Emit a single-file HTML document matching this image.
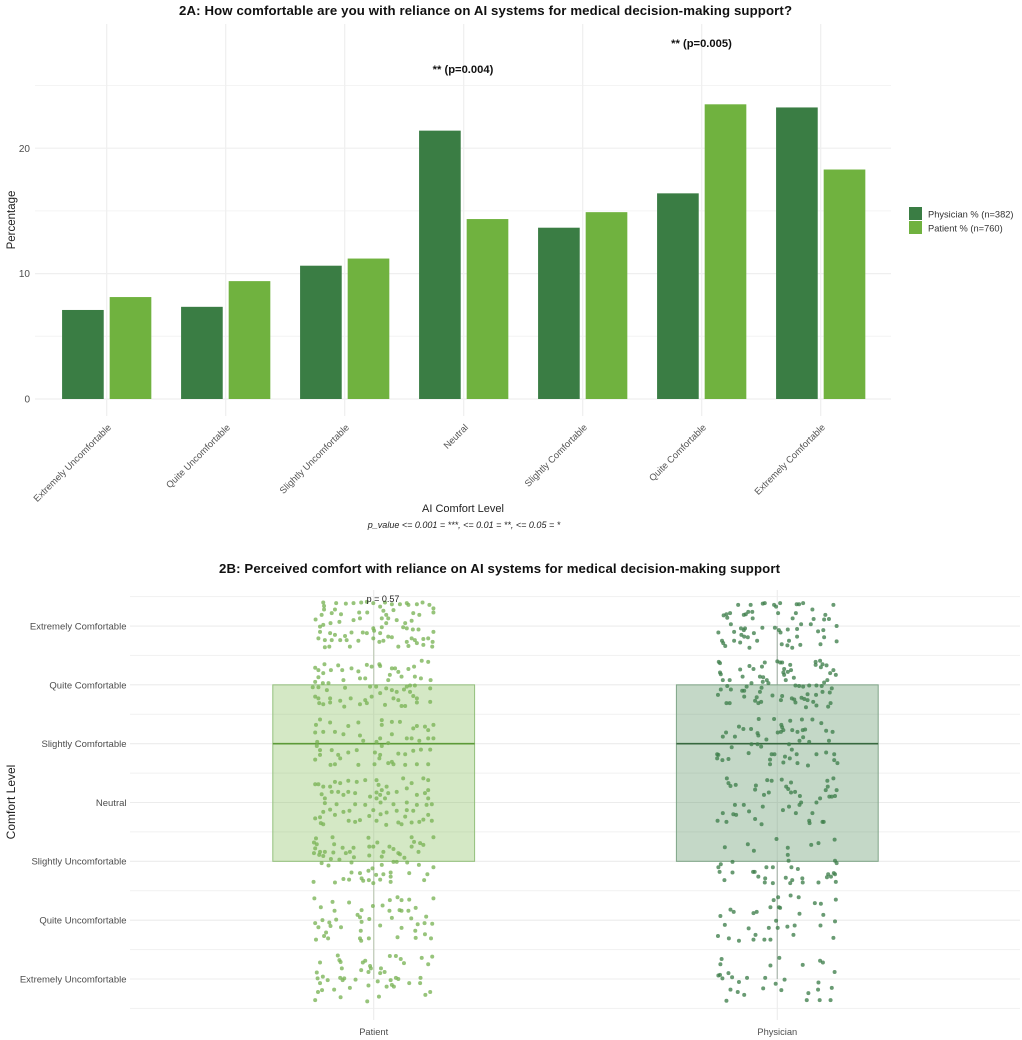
<!DOCTYPE html>
<html lang="en">
<head>
<meta charset="utf-8">
<title>AI comfort level charts</title>
<style>
html,body{margin:0;padding:0;background:#fff;}
#figure{display:block;width:1022px;height:1040px;font-family:"Liberation Sans",Arial,sans-serif;filter:blur(.35px);}
</style>
</head>
<body>
<svg id="figure" xmlns="http://www.w3.org/2000/svg" width="1022" height="1040" viewBox="0 0 1022 1040">
<rect x="0" y="0" width="1022" height="1040" fill="#fff"/>
<g id="panelA"></g>
<g id="panelB"></g>

<text x="485.5" y="15" text-anchor="middle" font-size="13.2" font-weight="bold" fill="#111" textLength="613" lengthAdjust="spacing">2A: How comfortable are you with reliance on AI systems for medical decision-making support?</text>
<text transform="translate(15,220) rotate(-90)" text-anchor="middle" font-size="11.5" fill="#222">Percentage</text>
<text x="463" y="512" text-anchor="middle" font-size="11" fill="#222">AI Comfort Level</text>
<text x="464" y="528" text-anchor="middle" font-size="9" font-style="italic" fill="#222">p_value &lt;= 0.001 = ***, &lt;= 0.01 = **, &lt;= 0.05 = *</text>
<text x="463" y="73" text-anchor="middle" font-size="11.2" font-weight="bold" fill="#111">** (p=0.004)</text>
<text x="701.5" y="47" text-anchor="middle" font-size="11.2" font-weight="bold" fill="#111">** (p=0.005)</text>

<g>
<rect x="909" y="207" width="13" height="13" fill="#3a7d44"/>
<rect x="909" y="221" width="13" height="13" fill="#70b23f"/>
<text x="928" y="217.5" font-size="9.3" fill="#333">Physician % (n=382)</text>
<text x="928" y="231.5" font-size="9.3" fill="#333">Patient % (n=760)</text>
</g>

<text x="499.5" y="573" text-anchor="middle" font-size="13.2" font-weight="bold" fill="#111" textLength="561" lengthAdjust="spacing">2B: Perceived comfort with reliance on AI systems for medical decision-making support</text>
<text transform="translate(15,802) rotate(-90)" text-anchor="middle" font-size="12" fill="#222">Comfort Level</text>
<text x="383" y="602" text-anchor="middle" font-size="9" fill="#222">p = 0.57</text>
</svg>

<script>
const comfortLevels = ['Extremely Uncomfortable','Quite Uncomfortable','Slightly Uncomfortable','Neutral','Slightly Comfortable','Quite Comfortable','Extremely Comfortable'];
const physicianPercent = [7.1,7.35,10.63,21.4,13.66,16.4,23.25];
const patientPercent = [8.13,9.4,11.2,14.35,14.9,23.5,18.3];
const percentMajorTicks = [0,10,20];
const percentMinorTicks = [5,15,25];

const groups = ['Patient','Physician'];
const boxQ1 = [3,3];
const boxMedian = [5,5];
const boxQ3 = [6,6];
const whiskerLow = [1,1];
const whiskerHigh = [7,7];

/* each point: [jitter as % of a category width, jittered comfort level] */
const patientPoints = [
[-12.5,7.4],[-12.3,7.34],[-9.3,7.39],[-6.9,7.38],[-5,7.39],[-3.1,7.4],[-1.7,7.41],[-.1,7.39],[2.8,7.4],[4.5,7.37],[6.5,7.37],[8.2,7.39],[8.6,7.36],[10.7,7.37],[12.1,7.4],[13.8,7.36],[14.8,7.3],[14.8,7.23],[-12.3,7.28],[-12.9,7.19],[-14.4,7.11],[-10.4,7.22],[-9.6,7.28],[-8.1,7.2],[-3.6,7.23],[-1.6,7.23],[1.6,7.33],[2.4,7.26],[3.1,7.19],[2,7.13],[3.6,7.13],[4.9,7.27],[9.8,7.22],[11.3,7.19],[7.8,7.05],[5.7,7.1],[9.4,7.09],[14.8,6.9],
[-13.3,6.99],[-12.5,7.02],[-10.7,7.05],[-8.5,7.07],[-5,7.1],[-3.4,7.13],[-.1,6.96],[.1,6.92],[2,6.98],[3.1,7.05],[7.3,6.98],[8.2,6.96],[9.7,6.94],[11.1,6.94],[-13.3,6.9],[-13.7,6.79],[-10.8,6.88],[-9.6,6.85],[-7.1,6.83],[-5.5,6.89],[-2.7,6.89],[-1.7,6.88],[1.6,6.88],[3.6,6.82],[4.5,6.81],[8.2,6.73],[9.4,6.79],[10.2,6.76],[10.7,6.71],[12.3,6.78],[13.5,6.79],[14.6,6.73],[-12.1,6.76],[-10.4,6.76],[-8.3,6.76],[-6.7,6.76],[-5.9,6.65],[-3.8,6.75],[1.4,6.73],[2.4,6.75],[-.1,6.79],[-12.1,6.64],[-11,6.65],[6.1,6.65],[8.6,6.66],[12.3,6.68],[14.5,6.65],
[-12.2,6.35],[-14.5,6.29],[-13.7,6.25],[-12.5,6.2],[-10.6,6.25],[-8.8,6.33],[-7.8,6.25],[-5.5,6.28],[-3.8,6.23],[-1.7,6.34],[-.5,6.31],[1.4,6.35],[1.6,6.32],[4.5,6.28],[5.3,6.28],[6.1,6.22],[8.6,6.27],[10,6.31],[11.9,6.41],[13.5,6.39],[14.1,6.08],[10.2,6.14],[11.7,6.11],[-13.7,6.13],[-14.5,6.05],[-11.2,6.03],[-7.5,6.08],[-3.4,6.11],[-2.1,6.11],[4,6.17],[3.6,6.08],[6.9,6.14],[-12.6,6.03],[-15.1,5.96],[-13.7,5.96],[-11.6,5.91],[-7.1,5.95],[-.9,5.97],[.6,5.97],[3.1,5.94],[4.5,5.91],[5.7,5.88],[7.5,5.92],[8.2,5.97],[9,5.99],[10.2,5.99],[14,5.94],[-14.5,5.8],[-13.7,5.77],[-10.8,5.77],[-8.3,5.73],[-5.7,5.77],[-2.1,5.74],[-.5,5.8],[1.6,5.86],[4.9,5.77],[6.1,5.74],[9,5.88],[9.8,5.81],[10.7,5.77],[14,5.71],[-13.5,5.69],[-12.5,5.67],[-10.8,5.7],[-7.3,5.63],[-3.4,5.67],[-1.7,5.69],[2.8,5.66],[6.9,5.64],[7.8,5.64],[10.7,5.7],
[-13.3,5.41],[-14.3,5.32],[-10.8,5.36],[-6.3,5.3],[-3.8,5.36],[2,5.4],[2,5.32],[4.5,5.37],[6.5,5.37],[10.7,5.3],[12.7,5.29],[14.8,5.32],[9.8,5.26],[13.5,5.23],[-14.5,5.19],[-12.5,5.2],[-9.6,5.2],[-7.5,5.16],[-3.4,5.14],[4.5,5.16],[1.6,5.09],[8.2,5.09],[9.4,5.09],[11.3,5.05],[13.5,5.09],[14.8,5.09],[-14,5.03],[-14.1,4.96],[-10.4,4.89],[-13.3,4.89],[-8.8,4.81],[-6.3,4.85],[-4.2,4.89],[-2.6,5.05],[.7,5.03],[2,4.96],[3.6,5.01],[6.1,4.83],[7.8,4.82],[9.8,4.88],[11.7,4.9],[14,4.9],[-14.5,4.73],[-13.3,4.81],[-8.3,4.75],[-3.8,4.64],[.3,4.85],[1.6,4.81],[1.4,4.75],[4.5,4.69],[4.9,4.65],[7.8,4.64],[10.7,4.65],[13.5,4.65],[-10.7,4.64],[-9.6,4.65],[.2,4.65],[3.6,4.67],
[-14.5,4.31],[-13.7,4.31],[-12.5,4.27],[-10.8,4.27],[-9.6,4.35],[-8.3,4.33],[-6.3,4.37],[-4.2,4.35],[-2.1,4.38],[.7,4.38],[1.2,4.3],[3.2,4.27],[7.3,4.41],[9.4,4.33],[12.3,4.41],[13.5,4.38],[-12.9,4.14],[-10.4,4.18],[-8.8,4.18],[-6.3,4.18],[-4.6,4.16],[.7,4.17],[2,4.21],[3.6,4.16],[5.7,4.18],[8.2,4.24],[12.7,4.16],[13.5,4.21],[.7,4.07],[1.6,4.13],[2.8,4.07],[13.5,4.07],[10.7,4.13],[-12.1,4.07],[-7.5,4.13],[-.9,4.1],
[-12.1,3.99],[-9.2,3.97],[-4.6,3.97],[-2.1,3.96],[1.7,4],[4.9,3.97],[8.2,4],[10.7,3.96],[14.4,3.97],[-10.8,3.88],[-12.5,3.84],[-9.6,3.79],[-7.5,3.84],[-6,3.86],[-.1,3.87],[1.7,3.8],[3.2,3.83],[5.7,3.86],[8.2,3.87],[9.8,3.86],[13.1,3.96],[-14.5,3.73],[-13.3,3.75],[-13.1,3.65],[-12.5,3.63],[-6.2,3.69],[-4.6,3.67],[-3.4,3.7],[-1.1,3.77],[.7,3.69],[3.1,3.62],[6.1,3.66],[6.9,3.63],[9.4,3.66],[11.3,3.67],[12.3,3.71],[14.4,3.69],[13.5,3.79],[7.8,3.76],
[-14.3,3.39],[-10.2,3.41],[-1.3,3.4],[.9,3.32],[9.4,3.41],[10,3.33],[14.8,3.41],[-14.8,3.32],[-14.1,3.29],[-9.8,3.29],[-1.1,3.25],[-.1,3.25],[3.9,3.25],[4.9,3.21],[11.5,3.31],[12.3,3.28],[9.4,3.25],[-14.5,3.22],[-7.7,3.23],[-5,3.23],[11.1,3.16],[-14.8,3.14],[-13.3,3.16],[-12.1,3.16],[-10,3.15],[-5.9,3.16],[-6.9,3.14],[2.4,3.16],[2,3.08],[6.1,3.14],[6.5,3.12],[-13.5,3.11],[-12.5,3.09],[-4.9,3.07],[-1.1,3.1],[7.6,3.06],[-10.6,3.04],[-8.5,3.03],[4.9,2.99],[5.7,2.99],[-12.9,2.97],[-11.2,2.93],[-5.5,2.98],[8.3,2.98],[11.2,2.94],[14.8,2.9],[2,2.94],[-.3,2.88],[-1.3,2.84],[-5.5,2.81],[-3.4,2.8],[.6,2.77],[2.4,2.78],[4.2,2.81],[8.8,2.8],[13.3,2.78],[-3,2.71],[-7.5,2.7],[-6.1,2.69],[-1.2,2.68],[1.6,2.69],[4.2,2.74],[12.5,2.68],[-14.9,2.65],[-9.6,2.64],[4.2,2.65],[-2.6,2.67],[-.1,2.63],
[-14.7,2.37],[-10.2,2.31],[-6.1,2.3],[5.9,2.39],[6.9,2.34],[8.8,2.35],[14.8,2.37],[4,2.34],[-13.1,2.22],[-9.7,2.16],[-3,2.17],[-.2,2.24],[2.2,2.25],[10.4,2.21],[3.9,2.16],[6.4,2.17],[6.9,2.16],[8.6,2.16],[-4,2.09],[-3.4,2.05],[-1.1,2.02],[4.5,2.04],[9.3,2.03],[13,2.06],[-12.7,2],[-9.3,2.01],[-14.5,1.95],[-11,1.96],[-3,1.97],[12.6,1.95],[14.5,1.94],[10.9,1.93],[-13.7,1.88],[-10.7,1.9],[-8.1,1.88],[1.6,1.91],[6.9,1.87],[10.3,1.82],[-11.8,1.79],[-3.2,1.82],[12.7,1.76],[-12.3,1.73],[5.9,1.71],[10.4,1.7],[14.2,1.69],[-14.3,1.67],[-11.3,1.69],[-3.4,1.69],[-1.2,1.69],[-3.1,1.65],
[-8.9,1.4],[-8.5,1.32],[-8.2,1.29],[-13.3,1.28],[-2.1,1.31],[-2.7,1.28],[4,1.39],[5.5,1.39],[6.7,1.34],[7.5,1.27],[11.9,1.36],[14.5,1.38],[13.5,1.25],[-7.9,1.18],[-.9,1.22],[-.7,1.18],[1.8,1.18],[-3.1,1.15],[-1.3,1.12],[-14.1,1.11],[2.7,1.12],[1.6,1.1],[-12.6,1.04],[-13.9,1.01],[-8.3,1.02],[-7.3,1.01],[-11.4,.98],[-4.5,.99],[5.5,1.02],[6.1,1],[11.6,1.02],[-13.3,.93],[-7.7,.98],[1,.96],[4.2,.98],[8.8,.93],[11.5,.93],[-1.3,.89],[-5.9,.85],[3.2,.87],[4.5,.9],[5,.87],[-12.8,.81],[-9.8,.82],[-13.8,.78],[14,.78],[-14.5,.64],[-8.2,.69],[12.8,.73],[1.3,.7],[-1.6,.62]
];
const physicianPoints = [
[-9.7,7.36],[-6.6,7.36],[-3.6,7.38],[-3.1,7.39],[-.8,7.36],[-.3,7.33],[.7,7.39],[4.8,7.37],[5.4,7.37],[6.4,7.39],[13.9,7.36],[8.7,7.28],[-6.2,7.24],[-7.2,7.24],[-7.8,7.2],[-8.3,7.19],[-11.7,7.22],[-12.6,7.2],[-13.3,7.18],[-12.4,7.14],[-6.1,7.13],[.2,7.22],[4.6,7.22],[3.8,7.13],[11.9,7.19],[9,7.12],[11.6,7.11],[12.8,7.12],[-11.5,7.03],[5.9,7.03],[8.3,7.03],[14.7,7],[-9,6.96],[-8,6.96],[-8.3,6.93],[-3.7,6.97],[-.6,6.97],[.4,6.93],[.8,6.89],[2.6,6.94],[4.9,6.95],[10.1,6.91],[11.4,6.93],[-14.6,6.89],[-10.7,6.9],[-5.8,6.88],[-8.9,6.85],[-8.2,6.82],[-7.3,6.81],[4.9,6.82],[11.6,6.81],[-13.7,6.75],[-10.7,6.75],[-5,6.75],[2.9,6.75],[14.7,6.74],[-13.4,6.71],[-9.2,6.72],[1.1,6.69],[2.5,6.67],[5.7,6.68],[10.7,6.69],[-12.9,6.66],[-6.9,6.63],[3.7,6.63],
[-14.5,6.39],[-14.2,6.37],[0,6.4],[.7,6.38],[1.2,6.38],[-3.1,6.38],[10.6,6.41],[9.5,6.39],[11.2,6.35],[9.5,6.34],[3.2,6.34],[-3.8,6.31],[-6.9,6.32],[-5.9,6.27],[-9.2,6.26],[1.7,6.27],[3.4,6.25],[2.6,6.22],[1.5,6.21],[10.8,6.3],[12.2,6.33],[13.9,6.25],[-14.2,6.21],[-14,6.18],[-8.6,6.14],[1.7,6.17],[13.1,6.2],[14.5,6.17],[-4.3,6.14],[-3.5,6.13],[4.1,6.12],[12.4,6.08],[-13.5,6.08],[-11.8,6.08],[-3.6,6.05],[-2.6,6.08],[-2.2,6.03],[2.1,6.08],[-6.4,6.03],[11.6,6.04],[-12.4,5.98],[-7.6,5.97],[-3.9,5.95],[4.5,5.99],[5.4,5.98],[6.4,5.97],[7.9,5.99],[9.7,5.99],[11,5.98],[13.5,5.94],[-14,5.92],[-11.5,5.92],[-8.2,5.9],[-8.7,5.9],[-4.3,5.88],[13,5.87],[11.2,5.88],[-14.7,5.83],[-8.2,5.8],[-5.1,5.79],[-1.2,5.82],[1.2,5.81],[7.5,5.84],[9.6,5.83],[.9,5.74],[3.6,5.77],[4.2,5.75],[6,5.78],[6.7,5.76],[7.5,5.74],[-5.5,5.73],[-4,5.71],[-4.7,5.69],[-12.6,5.69],[-11.8,5.69],[4.5,5.7],[8.9,5.71],[13.2,5.69],[7.1,5.62],[9.7,5.65],[12.6,5.63],
[-4.6,5.42],[-.8,5.42],[3.2,5.39],[6.1,5.41],[8.7,5.41],[10.9,5.35],[1,5.32],[1.2,5.28],[-9.5,5.29],[-8.4,5.25],[-6.5,5.25],[1.5,5.23],[3.7,5.23],[6.3,5.23],[6.9,5.24],[-12.7,5.19],[-4.9,5.18],[.9,5.2],[.1,5.19],[5,5.2],[12.1,5.22],[13.7,5.2],[-4.7,5.14],[-13.5,5.12],[-10.5,5.12],[6.4,5.11],[-2.7,5.07],[5.5,5.05],[7.9,5.03],[12.8,5.05],[-6.4,4.99],[-4.9,4.99],[2.9,4.99],[-4,4.95],[-11.3,4.94],[3.6,4.9],[-7.1,4.84],[-14.9,4.82],[-14.6,4.81],[-14.9,4.75],[-13.6,4.72],[-12.1,4.74],[-1.4,4.82],[-.7,4.82],[4.8,4.82],[9.7,4.82],[12.1,4.85],[14.1,4.82],[1.9,4.78],[3.1,4.75],[-1.8,4.73],[14.1,4.72],[1.5,4.68],[5,4.67],[14.9,4.67],[7.6,4.63],[-1.8,4.65],
[-12.5,4.41],[-12.1,4.33],[-11.6,4.28],[-10.3,4.3],[-5.3,4.29],[-5.5,4.22],[-2.5,4.38],[-1.4,4.37],[1.1,4.39],[2.2,4.27],[2.7,4.23],[3.4,4.34],[3.4,4.17],[4.4,4.18],[5.6,4.11],[12.4,4.37],[13.9,4.41],[12.5,4.27],[12,4.21],[14.7,4.21],[-3.3,4.13],[-2.1,4.17],[12.9,4.1],[13.5,4.1],[14.3,4.11],[10.6,4.07],
[-10.5,3.96],[-8.3,3.96],[-3.6,3.93],[1.4,3.87],[2.9,3.93],[5.5,3.96],[5.9,4],[9.7,4],[-13.5,3.82],[-10.9,3.8],[-10.2,3.79],[-7,3.85],[4.6,3.82],[8.7,3.82],[-14.8,3.69],[-12.6,3.67],[-5.5,3.72],[-3.9,3.63],[7.9,3.69],[8,3.65],[11.2,3.67],[11.5,3.67],
[-.2,3.38],[14.2,3.37],[-7.3,3.29],[-13,3.24],[8.4,3.28],[10.2,3.31],[2.6,3.23],[-5.8,3.18],[2.6,3.11],[2.8,3.01],[-11.1,2.99],[-14,2.95],[14.3,3.01],[14.7,2.97],[-14.6,2.9],[-2.7,2.9],[-1.1,2.9],[3.5,2.9],[5.1,2.87],[-14.3,2.82],[-11.1,2.81],[-6,2.82],[-5.6,2.82],[-4.7,2.74],[14,2.8],[12.6,2.78],[12.3,2.73],[13.3,2.74],[14.3,2.78],[-3,2.71],[2.1,2.72],[6.2,2.71],[-13.1,2.68],[3.7,2.68],[3.2,2.63],[-3.1,2.64],[-1.1,2.63],[6.3,2.64],[10.2,2.64],[14.5,2.65],
[.2,2.39],[3.3,2.42],[5.3,2.39],[-.9,2.34],[14.5,2.35],[9.3,2.29],[10.8,2.28],[-1.7,2.22],[.4,2.22],[.7,2.21],[-11.6,2.18],[-10.8,2.14],[-5.1,2.14],[-5.9,2.12],[5.5,2.11],[11.4,2.09],[-14.1,2.07],[-.3,1.99],[14.3,1.98],[-13,1.92],[-7.1,1.86],[-2.1,1.87],[.1,1.87],[2.5,1.89],[4.3,1.91],[10.7,1.91],[-14.7,1.73],[-5.4,1.75],[4,1.75],[13.9,1.7],[-12,1.69],[-5.9,1.67],[-3.2,1.67],[-1.7,1.67],[-9.5,1.65],
[-13.8,1.34],[.5,1.36],[10.6,1.31],[11.3,1.28],[-14.1,1.25],[-1.7,1.23],[6.3,1.24],[14.2,1.12],[-12.1,1.1],[-14.6,1.06],[-14.2,1.07],[-13.6,1.01],[-11.2,1.03],[-7.5,1.02],[-3,1.02],[-9.5,.95],[1.8,.99],[10.2,.94],[-.4,.92],[-11.6,.82],[-3.5,.84],[1,.81],[10.1,.82],[13.5,.85],[-9.8,.78],[-8.2,.73],[7.7,.76],[-12.6,.63],[7.3,.64],[10.5,.64],[13.2,.64]
];

const SVG_NS = 'http://www.w3.org/2000/svg';
function make(parent, tag, attrs, text) {
  const node = document.createElementNS(SVG_NS, tag);
  for (const key in attrs) node.setAttribute(key, attrs[key]);
  if (text !== undefined) node.textContent = text;
  parent.appendChild(node);
  return node;
}

/* Panel 2A axes */
const xA = i => 106.7 + 119 * i;
const yA = v => 399 - 12.54 * v;
const DODGE = 0.2 * 119;
const BAR_W = 0.35 * 119;
const panelA = document.getElementById('panelA');

percentMinorTicks.forEach(t => {
  const el = make(panelA, 'line', {x1:35, x2:891, y1:yA(t), y2:yA(t), stroke:'#f4f4f4', 'stroke-width':1});
  
  
});
percentMajorTicks.forEach(t => {
  const el = make(panelA, 'line', {x1:35, x2:891, y1:yA(t), y2:yA(t), stroke:'#efefef', 'stroke-width':1.2});
  
  
  const lab = make(panelA, 'text', {x:30, y:yA(t)+3.6, 'text-anchor':'end', 'font-size':10, fill:'#4d4d4d'}, String(t));
  
  
});
comfortLevels.forEach((level, i) => {
  const grid = make(panelA, 'line', {x1:xA(i), x2:xA(i), y1:24, y2:416, stroke:'#efefef', 'stroke-width':1.2});
  
  
  const dark = make(panelA, 'rect', {x:xA(i)-DODGE-BAR_W/2, y:yA(physicianPercent[i]), width:BAR_W, height:yA(0)-yA(physicianPercent[i]), fill:'#3a7d44'});
  
  
  const light = make(panelA, 'rect', {x:xA(i)+DODGE-BAR_W/2, y:yA(patientPercent[i]), width:BAR_W, height:yA(0)-yA(patientPercent[i]), fill:'#70b23f'});
  
  
  const lab = make(panelA, 'text', {transform:'translate('+(xA(i)+5)+',428) rotate(-45)', 'text-anchor':'end', 'font-size':9.4, fill:'#555'}, level);
  
  
});

/* Panel 2B axes */
const xB = (g, j) => 373.7 + 403.6 * (g + (j || 0) / 100);
const yB = c => 979 - 58.83 * (c - 1);
const BOX_HALF = 0.25 * 403.6;
const panelB = document.getElementById('panelB');
const groupStyles = [
  {fill:'#70b23f', edge:'#93c07c', median:'#5c9a38', whisker:'#c6d0bf', point:'#7ab356'},
  {fill:'#3a7d44', edge:'#7fa587', median:'#37683f', whisker:'#b5c0b7', point:'#3f7f4b'}
];
const levelTicks = comfortLevels.map((_, i) => i + 1);

levelTicks.forEach(t => {
  const minor = make(panelB, 'line', {x1:130, x2:1020, y1:yB(t+0.5), y2:yB(t+0.5), stroke:'#f1f1f1', 'stroke-width':1});
  
  
  const major = make(panelB, 'line', {x1:130, x2:1020, y1:yB(t), y2:yB(t), stroke:'#ececec', 'stroke-width':1.1});
  
  
  const lab = make(panelB, 'text', {x:126.5, y:yB(t)+3.4, 'text-anchor':'end', 'font-size':9.5, fill:'#4d4d4d'}, comfortLevels[t-1]);
  
  
});
const lowerMinor = make(panelB, 'line', {x1:130, x2:1020, y1:yB(0.5), y2:yB(0.5), stroke:'#f1f1f1', 'stroke-width':1});



groups.forEach((group, g) => {
  const s = groupStyles[g];
  const grid = make(panelB, 'line', {x1:xB(g), x2:xB(g), y1:590, y2:1020, stroke:'#ececec', 'stroke-width':1.1});
  
  
  const whiskerUp = make(panelB, 'line', {x1:xB(g), x2:xB(g), y1:yB(whiskerHigh[g]), y2:yB(boxQ3[g]), stroke:s.whisker, 'stroke-width':1.4});
  
  
  const whiskerDown = make(panelB, 'line', {x1:xB(g), x2:xB(g), y1:yB(boxQ1[g]), y2:yB(whiskerLow[g]), stroke:s.whisker, 'stroke-width':1.4});
  
  
  const box = make(panelB, 'rect', {x:xB(g)-BOX_HALF, y:yB(boxQ3[g]), width:BOX_HALF*2, height:yB(boxQ1[g])-yB(boxQ3[g]), fill:s.fill, 'fill-opacity':0.3, stroke:s.edge, 'stroke-width':1});
  
  
  const median = make(panelB, 'line', {x1:xB(g)-BOX_HALF, x2:xB(g)+BOX_HALF, y1:yB(boxMedian[g]), y2:yB(boxMedian[g]), stroke:s.median, 'stroke-width':1.6});
  
  
  const points = g === 0 ? patientPoints : physicianPoints;
  points.forEach(p => {
    const dot = make(panelB, 'circle', {cx:xB(g, p[0]), cy:yB(p[1]), r:2, fill:s.point, 'fill-opacity':0.78});
    
    
  });
  const lab = make(panelB, 'text', {x:xB(g), y:1035, 'text-anchor':'middle', 'font-size':9.3, fill:'#4d4d4d'}, group);
  
  
});
</script>
</body>
</html>
